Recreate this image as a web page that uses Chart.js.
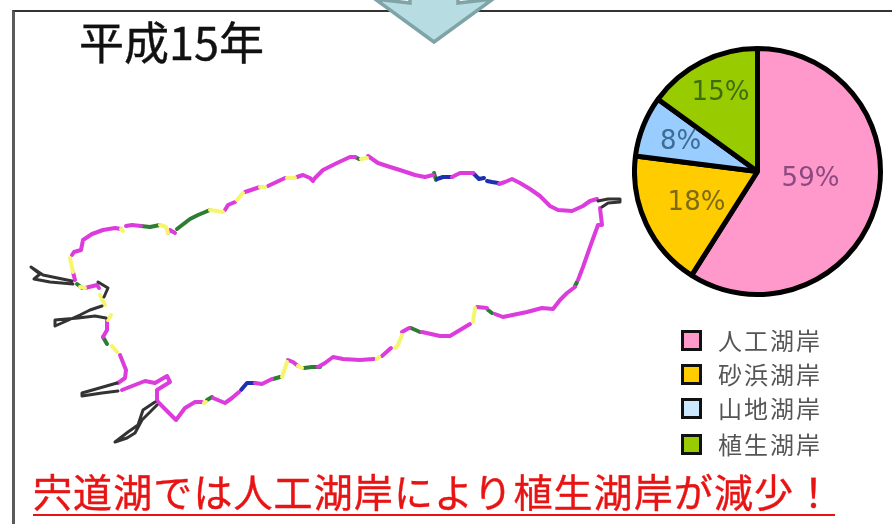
<!DOCTYPE html>
<html lang="ja">
<head>
<meta charset="utf-8">
<script src="https://cdn.jsdelivr.net/npm/chart.js@4/dist/chart.umd.min.js"></script>
<style>
html,body{margin:0;padding:0;background:#fff;width:892px;height:524px;overflow:hidden;font-family:"Noto Sans CJK JP",sans-serif}
#page{position:absolute;left:0;top:0;width:892px;height:524px;filter:blur(.5px)}
#frame{position:absolute;left:12px;top:10px;width:880px;height:514px;box-sizing:border-box;border-top:2.5px solid #333;border-left:3px solid #5a5a5a}
#arrow{position:absolute;left:0;top:0}
#lake{position:absolute;left:0;top:0}
#pie{position:absolute;left:632px;top:45px}
#title{position:absolute;left:79px;top:11px;font-size:45px;line-height:60px;color:#111;white-space:nowrap;-webkit-text-stroke:.4px #111}
#note{position:absolute;left:33px;top:466px;width:802px;font-size:39px;line-height:48px;color:#e81414;white-space:nowrap;letter-spacing:1.1px;border-bottom:2.5px solid #e81414;-webkit-text-stroke:.4px #e81414}
.key{position:absolute;left:682px;width:15px;height:15px;border:3px solid #111;box-sizing:content-box;margin-left:-1px}
.keyText{position:absolute;left:718px;font-size:24px;line-height:30px;letter-spacing:2px;color:#555;white-space:nowrap}
</style>
</head>
<body>
<div id="page">
<div id="frame"></div>
<svg id="arrow" width="892" height="60"><polygon points="410,-6 410,3 375,-1 434,42 493,-1 458,3 458,-6" fill="#b7dde3" stroke="#7fa4a8" stroke-width="3.5"/></svg>
<canvas id="lake" width="892" height="524"></canvas>
<canvas id="pie" width="251" height="253"></canvas>
<div id="title">平成15年</div>
<div id="legend"></div>
<div id="note">宍道湖では人工湖岸により植生湖岸が減少！</div>
</div>
<script>
const categories = ["人工湖岸","砂浜湖岸","山地湖岸","植生湖岸"];
const shares = [59,18,8,15];
const sliceColors = ["#ff99cc","#ffcc00","#99ccff","#99cc00"];
const legendColors = ["#ff99cc","#ffcc00","#cce8ff","#99cc00"];
const labelColors = ["#8a4a80","#7d6a14","#3d6c94","#3f6c12"];

// Shoreline runs, in the picture's own x / y units
const artificialShore = [
 [[72,255],[74,252],[81,250],[83,240],[92,234],[103,230],[115,228],[121,229]],
 [[126,226],[132,225],[141,226]],
 [[168,233],[170,230],[175,233]],
 [[225,210],[228,205],[235,202]],
 [[245,192],[260,187]],
 [[268,186],[285,178]],
 [[297,177],[303,175],[310,178],[313,181],[315,178],[323,170],[337,163],[350,157],[355,157]],
 [[368,156],[378,163],[387,166],[403,171],[415,175],[425,177],[433,175]],
 [[452,177],[460,173],[473,173]],
 [[499,184],[505,182],[512,179],[520,183],[530,189],[540,196],[550,206],[558,210],[572,211],[583,206],[590,201],[597,199]],
 [[600,208],[602,225],[598,225],[590,247],[583,267],[578,280]],
 [[575,287],[567,293],[560,300],[553,309],[542,308],[527,312],[503,317],[495,314]],
 [[487,308],[477,307]],
 [[470,324],[460,330],[450,336],[440,336],[422,332]],
 [[409,328],[402,332]],
 [[391,348],[382,356]],
 [[374,359],[360,360],[343,359],[333,357],[325,363],[318,367]],
 [[298,366],[293,362],[288,360]],
 [[272,379],[262,384],[255,383]],
 [[239,392],[232,398],[225,403],[213,398]],
 [[202,402],[195,402],[185,408],[176,420],[158,402],[157,400],[157,390],[170,382],[167,376],[155,383],[145,381],[122,390]],
 [[118,383],[125,378],[126,370],[120,355]],
 [[103,337],[107,330],[107,320]],
 [[99,288],[97,285],[85,288]],
 [[75,280],[73,272]]
];
const sandShore = [
 [[73,272],[70,258]],
 [[121,229],[123,231]],
 [[160,225],[166,227],[168,233]],
 [[210,210],[223,212]],
 [[237,200],[243,193]],
 [[260,187],[265,187]],
 [[287,178],[295,178]],
 [[361,159],[367,158]],
 [[475,308],[473,322]],
 [[402,335],[398,345],[395,348]],
 [[379,357],[377,359]],
 [[302,368],[298,366]],
 [[287,362],[282,377]],
 [[206,402],[204,403]],
 [[117,352],[112,346]],
 [[108,320],[111,315]],
 [[105,305],[100,295]],
 [[85,288],[80,287]]
];
const mountainShore = [
 [[437,179],[443,177],[452,177]],
 [[473,173],[479,179],[484,178]],
 [[487,181],[492,182],[498,183]],
 [[255,383],[247,383],[241,390]]
];
const vegetatedShore = [
 [[141,226],[150,227],[160,225]],
 [[177,229],[190,219],[198,215],[210,210]],
 [[355,157],[359,159]],
 [[434,173],[436,180]],
 [[577,282],[575,286]],
 [[492,313],[488,310]],
 [[420,332],[411,328]],
 [[320,367],[312,367],[304,368]],
 [[280,377],[273,379]],
 [[212,397],[207,400]],
 [[107,344],[103,337]],
 [[82,288],[77,284]]
];
const riverChannels = [
 [[598,201],[608,199],[620,199],[620,202],[608,203],[602,207]],
 [[155,402],[143,410],[138,425],[128,432],[115,442],[127,438],[135,433],[142,420],[157,405]],
 [[118,391],[102,393],[82,396],[82,393],[117,383]],
 [[106,318],[95,316],[78,318],[55,320],[55,326],[80,315],[90,310],[102,306]],
 [[104,297],[108,288],[98,282]],
 [[73,284],[50,282],[34,279],[40,274],[31,267],[43,275],[72,281]]
];

function flatten(runs){
  const out=[];
  runs.forEach(r=>{r.forEach(p=>out.push({x:p[0],y:p[1]}));out.push({x:NaN,y:NaN});});
  return out;
}
function shoreSet(label,runs,color,width){
  return {label,data:flatten(runs),showLine:true,borderColor:color,borderWidth:width,pointRadius:0,tension:0,spanGaps:false,borderCapStyle:'round',borderJoinStyle:'round'};
}
new Chart(document.getElementById('lake'),{
  type:'scatter',
  data:{datasets:[
    shoreSet('河川',riverChannels,'#333',3),
    shoreSet(categories[1],sandShore,'#f6f66e',4),
    shoreSet(categories[0],artificialShore,'#dc3cdc',4),
    shoreSet(categories[2],mountainShore,'#1c30b0',4),
    shoreSet(categories[3],vegetatedShore,'#2e7d32',4)
  ]},
  options:{responsive:false,animation:false,
    layout:{padding:0},
    plugins:{legend:{display:false},tooltip:{enabled:false}},
    scales:{x:{type:'linear',display:false,min:0,max:892},y:{type:'linear',display:false,min:0,max:524,reverse:true}}}
});

const labelOffsets=[[53,8],[-61,32],[-77,-29],[-37,-78]];
const pieLabels={
  id:'pieLabels',
  afterDatasetsDraw(chart){
    const ctx=chart.ctx, arcs=chart.getDatasetMeta(0).data;
    ctx.save();
    ctx.font='26px "DejaVu Sans"';
    ctx.textAlign='center';ctx.textBaseline='middle';
    arcs.forEach((a,i)=>{
      ctx.fillStyle=labelColors[i];
      ctx.fillText(shares[i]+'%',a.x+labelOffsets[i][0],a.y+labelOffsets[i][1]);
    });
    ctx.restore();
  }
};
new Chart(document.getElementById('pie'),{
  type:'pie',
  data:{labels:categories,datasets:[{data:shares,backgroundColor:sliceColors,borderColor:'#000',borderWidth:5}]},
  plugins:[pieLabels],
  options:{responsive:false,animation:false,layout:{padding:0},
    plugins:{tooltip:{enabled:false},legend:{display:false}}}
});

const legendRows=[340,374,408,444];
const legendEl=document.getElementById('legend');
categories.forEach((c,i)=>{
  const k=document.createElement('div');k.className='key';k.style.top=(legendRows[i]-10)+'px';k.style.background=legendColors[i];
  const t=document.createElement('div');t.className='keyText';t.style.top=(legendRows[i]-15)+'px';t.textContent=c;
  legendEl.append(k,t);
});
</script>
</body>
</html>
